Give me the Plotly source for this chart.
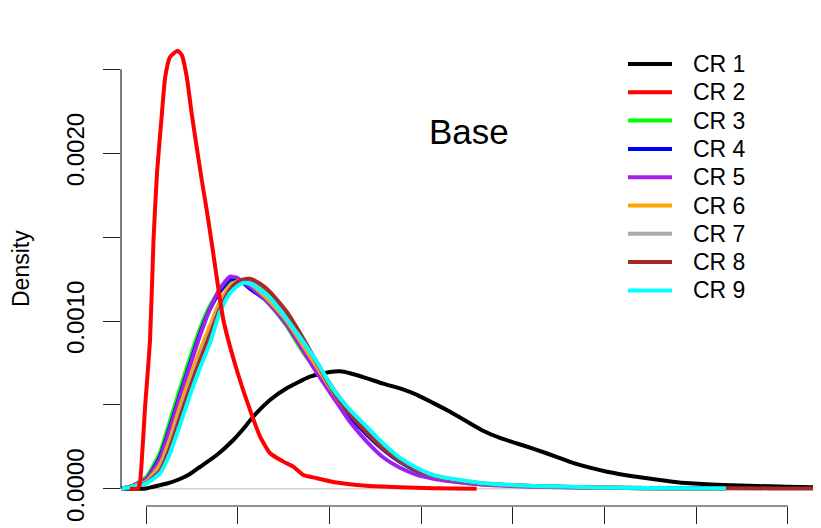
import numpy as np
import plotly.graph_objects as go

# ---------------- data ----------------
series_names = ["CR 1", "CR 2", "CR 3", "CR 4", "CR 5", "CR 6", "CR 7", "CR 8", "CR 9"]
series_colors = ["#000000", "#FF0000", "#00FF00", "#0000FF", "#A020F0",
                 "#FFA500", "#A9A9A9", "#A52A2A", "#00FFFF"]

# density values are given in units of 1e-4
cr1_x = [-137, 0, 40, 115, 185, 240, 294, 386, 476, 530, 583, 676, 767, 894, 1003, 1058,
         1112, 1205, 1292, 1401, 1478, 1565, 1658, 1750, 1838, 1930, 2023, 2110, 2257,
         2328, 2514, 2694, 2873, 2966, 3146, 3332, 3659, 3700]
cr1_y = [0, 0.018, 0.125, 0.316, 0.584, 0.882, 1.299, 2.014, 2.908, 3.564, 4.279, 5.292,
         5.990, 6.681, 6.961, 7.003, 6.888, 6.586, 6.270, 5.930, 5.600, 5.120, 4.590,
         4.010, 3.460, 3.030, 2.700, 2.400, 1.830, 1.540, 1.019, 0.685, 0.423, 0.328,
         0.226, 0.167, 0.089, 0.08]

cr2_x = [-87, -44, -33, -5, 22, 41, 60, 87, 104, 131, 173, 195, 222, 249, 276, 304, 331,
         360, 422, 495, 567, 622, 676, 749, 803, 858, 931, 1020, 1203, 1385, 1565, 1803]
cr2_y = [0, 0.018, 0.346, 4.875, 8.868, 14.83, 18.82, 22.40, 24.48, 25.73, 26.11, 25.85,
         24.56, 22.38, 20.39, 18.40, 16.62, 14.53, 10.06, 7.08, 4.70, 3.11, 2.12, 1.62,
         1.32, 0.82, 0.63, 0.41, 0.18, 0.09, 0.03, 0.0]

# common x grid for CR 3 .. CR 9
grid_x = [-137, -71, 4, 76, 131, 185, 240, 294, 349, 403, 458, 495, 529, 567, 622, 676,
          767, 858, 932, 1023, 1112, 1205, 1296, 1385, 1477, 1567, 1658, 1749, 1840, 1930,
          2110, 2257, 2475, 2748, 3162]
cr3_y = [0, 0.18, 0.72, 2.15, 4.05, 5.96, 7.81, 9.54, 10.91, 11.80, 12.34, 12.46, 12.40,
         12.16, 11.56, 10.97, 9.71, 8.11, 7.03, 5.60, 4.35, 3.28, 2.38, 1.61, 1.07, 0.72,
         0.54, 0.42, 0.30, 0.24, 0.15, 0.11, 0.07, 0.04, 0.02]
cr4_y = [0, 0.18, 0.60, 1.91, 3.70, 5.60, 7.45, 9.24, 10.73, 11.74, 12.46, 12.52, 12.28,
         11.92, 11.50, 11.09, 9.89, 8.34, 7.09, 5.60, 4.29, 3.22, 2.32, 1.61, 1.07, 0.72,
         0.54, 0.39, 0.30, 0.24, 0.15, 0.11, 0.07, 0.04, 0.02]
cr5_y = [0, 0.18, 0.60, 1.79, 3.58, 5.48, 7.33, 9.12, 10.73, 11.92, 12.64, 12.58, 12.34,
         12.04, 11.56, 10.97, 9.77, 8.22, 6.91, 5.42, 3.99, 2.80, 1.85, 1.25, 0.83, 0.60,
         0.45, 0.33, 0.24, 0.19, 0.12, 0.09, 0.06, 0.03, 0.02]
cr6_y = [0, 0.15, 0.45, 1.43, 2.98, 4.89, 6.62, 8.22, 9.71, 11.15, 12.10, 12.34, 12.40,
         12.22, 11.74, 11.15, 10.01, 8.52, 7.27, 5.72, 4.47, 3.40, 2.44, 1.67, 1.13, 0.77,
         0.57, 0.42, 0.30, 0.24, 0.15, 0.12, 0.07, 0.04, 0.02]
cr7_y = [0, 0.14, 0.39, 1.19, 2.62, 4.47, 6.20, 7.81, 9.30, 10.85, 11.92, 12.28, 12.46,
         12.40, 11.98, 11.44, 10.25, 8.70, 7.51, 5.96, 4.65, 3.52, 2.56, 1.79, 1.19, 0.83,
         0.60, 0.45, 0.33, 0.26, 0.17, 0.13, 0.08, 0.05, 0.02]
cr8_y = [0, 0.13, 0.36, 1.07, 2.44, 4.23, 6.02, 7.63, 9.18, 10.73, 11.86, 12.28, 12.46,
         12.52, 12.22, 11.74, 10.55, 8.94, 7.51, 5.78, 4.47, 3.34, 2.38, 1.67, 1.13, 0.77,
         0.57, 0.42, 0.30, 0.24, 0.16, 0.12, 0.08, 0.05, 0.03]
cr8_tail_x = [3659, 3700]
cr8_tail_y = [0.02, 0.02]
cr9_y = [0, 0.13, 0.33, 0.92, 2.12, 3.80, 5.59, 7.20, 8.69, 10.54, 11.67, 12.05, 12.27,
         12.21, 11.85, 11.37, 10.12, 8.75, 7.56, 5.89, 4.70, 3.68, 2.67, 1.84, 1.24, 0.82,
         0.61, 0.46, 0.33, 0.26, 0.17, 0.13, 0.08, 0.05, 0.02]

x_ticks = [0, 500, 1000, 1500, 2000, 2500, 3000, 3500]
y_ticks = [0.0, 0.0005, 0.0010, 0.0015, 0.0020, 0.0025]
y_ticktext = ["0.0000", "", "0.0010", "", "0.0020", ""]
title_text = "Base"
y_title = "Density"

# ---------------- figure ----------------
SCALE = 1e-4
curves = {
    "CR 1": (cr1_x, cr1_y),
    "CR 2": (cr2_x, cr2_y),
    "CR 3": (grid_x, cr3_y),
    "CR 4": (grid_x, cr4_y),
    "CR 5": (grid_x, cr5_y),
    "CR 6": (grid_x, cr6_y),
    "CR 7": (grid_x, cr7_y),
    "CR 8": (grid_x + cr8_tail_x, cr8_y + cr8_tail_y),
    "CR 9": (grid_x, cr9_y),
}
color_of = dict(zip(series_names, series_colors))
draw_order = ["CR 1", "CR 3", "CR 4", "CR 5", "CR 6", "CR 7", "CR 8", "CR 9", "CR 2"]

# the page body has an 8px margin; figure is sized so that it ends at the window edge
OFF = 8
W, H = 821 - OFF, 528 - OFF
# plot region in page pixels: x 121..821, y 32..506
ML, MR, MT = 121 - OFF, 0, 32 - OFF
MB = H - (506 - OFF)
FONT = "Liberation Sans, Arial, sans-serif"

fig = go.Figure()
for name in draw_order:
    xs, ys = curves[name]
    fig.add_trace(go.Scatter(
        x=xs, y=np.array(ys) * SCALE, mode="lines", name=name,
        line=dict(color=color_of[name], width=4, shape="spline", smoothing=0.5),
        showlegend=False, hoverinfo="skip"))

pw, ph = W - ML - MR, H - MT - MB
def px_x(p):  # page pixel -> paper
    return (p - OFF - ML) / pw
def px_y(p):
    return (H - MB - (p - OFF)) / ph

shapes = []
shapes.append(dict(type="line", xref="paper", yref="y", x0=0, x1=1, y0=0, y1=0,
                   line=dict(color="#BEBEBE", width=1), layer="below"))
shapes.append(dict(type="line", xref="x", yref="paper", x0=x_ticks[0], x1=x_ticks[-1],
                   y0=0, y1=0, line=dict(color="#222222", width=1.2)))
shapes.append(dict(type="line", xref="paper", yref="y", x0=0, x1=0, y0=y_ticks[0],
                   y1=y_ticks[-1], line=dict(color="#222222", width=1.2)))

annotations = []
leg_x0, leg_x1, leg_tx, leg_y0, leg_dy = 628, 672, 691, 64, 28.3
for i, name in enumerate(series_names):
    yy = px_y(leg_y0 + i * leg_dy)
    shapes.append(dict(type="line", xref="paper", yref="paper", x0=px_x(leg_x0),
                       x1=px_x(leg_x1), y0=yy, y1=yy,
                       line=dict(color=color_of[name], width=4)))
    annotations.append(dict(xref="paper", yref="paper", x=px_x(leg_tx), y=yy,
                            text=name, showarrow=False, xanchor="left", yanchor="middle",
                            font=dict(family=FONT, size=23, color="#000000")))
annotations.append(dict(xref="paper", yref="paper", x=px_x(469), y=px_y(131),
                        text=title_text, showarrow=False, xanchor="center",
                        yanchor="middle", font=dict(family=FONT, size=35, color="#000000")))
annotations.append(dict(xref="paper", yref="paper", x=px_x(21), y=px_y(269),
                        text=y_title, showarrow=False, textangle=-90, xanchor="center",
                        yanchor="middle", font=dict(family=FONT, size=23, color="#000000")))

fig.update_layout(
    width=W, height=H, autosize=False,
    margin=dict(l=ML, r=MR, t=MT, b=MB, pad=0),
    paper_bgcolor="white", plot_bgcolor="white",
    font=dict(family=FONT, size=23, color="#000000"),
    shapes=shapes, annotations=annotations, showlegend=False,
)
fig.update_xaxes(range=[-136.3, 3680.5], showgrid=False, zeroline=False, showline=False,
                 tickvals=x_ticks, showticklabels=False, ticks="outside", ticklen=17,
                 tickwidth=1.2, tickcolor="#222222", fixedrange=True)
fig.update_yaxes(range=[-0.0001025, 0.0027223], showgrid=False, zeroline=False,
                 showline=False, tickvals=y_ticks, ticktext=y_ticktext, tickangle=-90,
                 ticks="outside", ticklen=17, tickwidth=1.2, tickcolor="#222222",
                 ticklabelstandoff=9,
                 tickfont=dict(family=FONT, size=24, color="#000000"), fixedrange=True)

fig.write_html("out.html")
